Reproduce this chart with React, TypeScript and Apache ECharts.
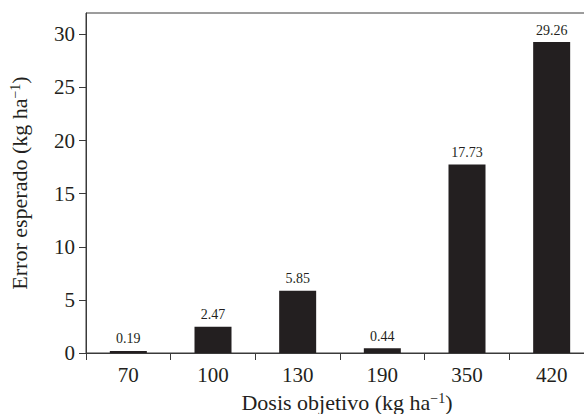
import React, { useEffect, useRef } from "react";
import * as echarts from "echarts";

const categories = ["70", "100", "130", "190", "350", "420"];
const values = [0.19, 2.47, 5.85, 0.44, 17.73, 29.26];
const yTicks = [0, 5, 10, 15, 20, 25, 30];

const FONT = "'Liberation Serif', 'DejaVu Serif', serif";
const INK = "#231f20";
const AXIS = "#3a3a3a";

export default function App() {
  const ref = useRef<HTMLDivElement>(null);
  useEffect(() => {
    if (!ref.current) return;
    const chart = echarts.init(ref.current, undefined, { renderer: "svg" });
    const sup = { fontFamily: FONT, fontSize: 14, color: INK, verticalAlign: "top", padding: [0, 0, 9, 0] };
    chart.setOption({
      animation: false,
      backgroundColor: "#ffffff",
      grid: {
        left: 86,
        right: 6,
        top: 13,
        bottom: 61,
        outerBoundsMode: "none",
        containLabel: false,
        show: true,
        borderColor: AXIS,
        borderWidth: 1,
        backgroundColor: "transparent",
      },
      xAxis: {
        type: "category",
        data: categories,
        boundaryGap: true,
        name: "Dosis objetivo (kg ha{sup|−1})",
        nameLocation: "middle",
        nameGap: 38,
        nameTextStyle: {
          fontFamily: FONT,
          fontSize: 22,
          color: INK,
          padding: [0, 0, 0, 14],
          rich: { sup },
        },
        axisLine: { show: true, lineStyle: { color: AXIS, width: 1 } },
        axisTick: { show: true, alignWithLabel: false, length: 7, lineStyle: { color: AXIS } },
        axisLabel: { fontFamily: FONT, fontSize: 21, color: INK, margin: 11 },
      },
      yAxis: {
        type: "value",
        min: 0,
        max: 32,
        interval: 5,
        name: "Error esperado (kg ha{sup|−1})",
        nameLocation: "middle",
        nameGap: 55,
        nameTextStyle: {
          fontFamily: FONT,
          fontSize: 22,
          color: INK,
          rich: { sup },
        },
        splitLine: { show: false },
        axisLine: { show: true, lineStyle: { color: AXIS, width: 1 } },
        axisTick: { show: true, length: 7, lineStyle: { color: AXIS }, customValues: yTicks },
        axisLabel: { fontFamily: FONT, fontSize: 21, color: INK, margin: 11, customValues: yTicks },
      },
      series: [
        {
          type: "bar",
          data: values,
          barWidth: 37,
          itemStyle: { color: INK },
          label: {
            show: true,
            position: "top",
            distance: 5,
            fontFamily: FONT,
            fontSize: 14,
            color: INK,
            formatter: (p: any) => p.value.toFixed(2),
          },
        },
      ],
    });
    return () => chart.dispose();
  }, []);
  return (
    <div
      ref={ref}
      style={{ position: "fixed", left: 0, top: 0, width: 600, height: 414 }}
    />
  );
}
